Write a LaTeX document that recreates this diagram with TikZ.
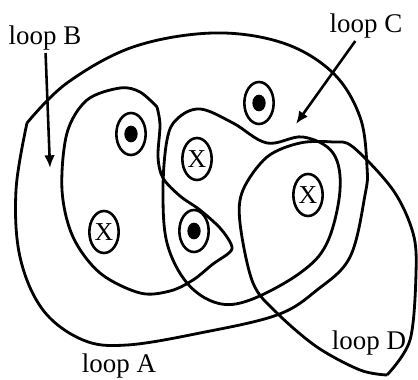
\documentclass[tikz,border=0pt]{standalone}
\usepackage{fontspec}
\setmainfont{Liberation Serif}
\usepackage{tikz}
\usetikzlibrary{shapes.geometric, arrows.meta}

\begin{document}
\begin{tikzpicture}[
    x=0.015cm, y=-0.015cm,
    loopline/.style={line width=1.2pt, line join=round},
    wire/.style={ellipse, draw, line width=1.1pt, minimum width=0.44cm, minimum height=0.63cm, inner sep=0pt},
    wireout/.style={wire, path picture={\fill (path picture bounding box.center) ellipse (0.1cm and 0.125cm);}},
    wirein/.style={wire, font=\fontsize{11}{13}\selectfont},
    lbl/.style={font=\fontsize{11.5}{13}\selectfont, inner sep=1pt},
    arrow/.style={line width=1.1pt, -{Latex[length=0.19cm, width=0.16cm]}}
]
\useasboundingbox (0,0) rectangle (418,379);

% loops (each starts at its sharp corner)
\draw [loopline] plot [smooth, tension=0.6] coordinates {(27,123) (67,83) (133,47) (213,33) (283,43) (333,73) (360,117) (367,167) (365,195) (350,257) (317,290) (277,315) (200,333) (127,345) (83,340) (43,310) (20,257) (16,190) (27,123)};
\draw [loopline] plot [smooth, tension=0.55] coordinates {(157,107) (140,92) (120,88) (87,100) (67,133) (62,190) (73,237) (100,273) (140,293) (170,291) (193,280) (213,264) (230,252) (231,244) (220,228) (200,210) (180,196) (163,178) (158,157) (160,125) (157,107)};
\draw [loopline] plot [smooth cycle, tension=0.6] coordinates {(163,190) (167,140) (177,119) (200,109) (233,123) (267,143) (303,137) (333,153) (340,190) (327,243) (300,273) (250,300) (217,303) (187,283) (167,243)};
\draw [loopline] plot [smooth, tension=0.55] coordinates {(387,375) (410,340) (416,273) (413,233) (393,190) (353,147) (333,142) (300,143) (267,157) (243,190) (240,223) (253,283) (277,313) (317,347) (360,370) (387,375)};

% wires
\node (w1) [wireout] at (131,134) {};
\node (w2) [wireout] at (259,103) {};
\node (w3) [wireout] at (194,231) {};
\node (w4) [wirein] at (197,159) {X};
\node (w5) [wirein] at (104,232) {X};
\node (w6) [wirein] at (308,195) {X};

% labels
\node (loopB) [lbl] at (45,38) {loop B};
\node (loopC) [lbl] at (366,26) {loop C};
\node (loopA) [lbl] at (119,366) {loop A};
\node (loopD) [lbl] at (369,343) {loop D};

\coordinate (tipB) at (50,168);
\coordinate (tipC) at (296,124);
\draw [arrow] (loopB) -- (tipB);
\draw [arrow] (loopC) -- (tipC);

\end{tikzpicture}
\end{document}
